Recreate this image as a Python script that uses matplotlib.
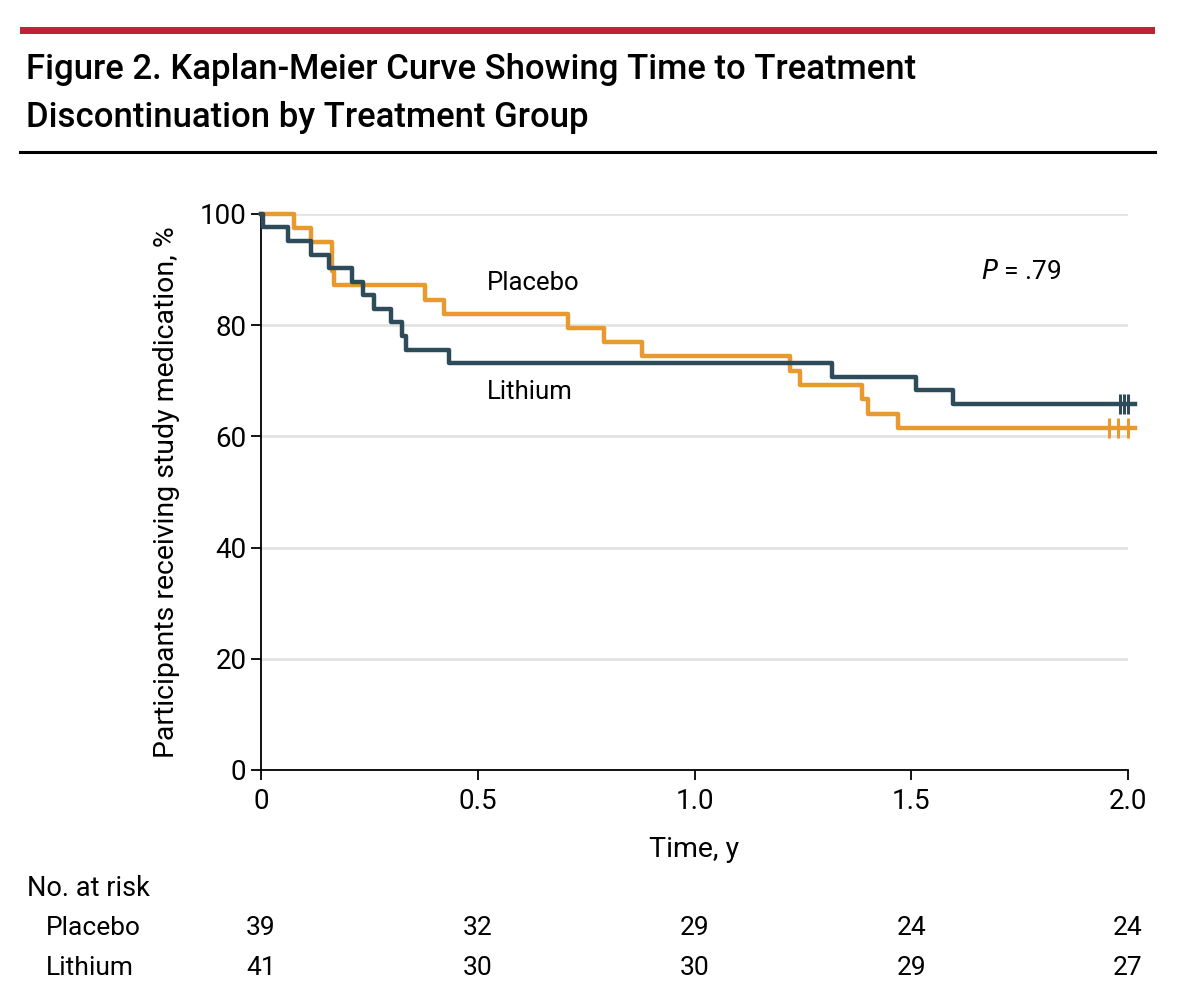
import matplotlib
matplotlib.use("Agg")
import matplotlib.pyplot as plt
from matplotlib import font_manager
from matplotlib.patches import Rectangle
from matplotlib.lines import Line2D

# Kaplan-Meier steps (time in years, % still on medication)
placebo_t = [0, 0.077, 0.115, 0.163, 0.168, 0.378, 0.423, 0.709, 0.792, 0.880,
             1.220, 1.243, 1.386, 1.401, 1.470, 2.017]
placebo_s = [100, 97.4, 94.9, 89.7, 87.2, 84.6, 82.1, 79.5, 76.9, 74.4,
             71.8, 69.2, 66.7, 64.1, 61.5, 61.5]
lithium_t = [0, 0.005, 0.063, 0.115, 0.157, 0.209, 0.236, 0.261, 0.301, 0.325,
             0.334, 0.434, 1.318, 1.512, 1.596, 2.017]
lithium_s = [100, 97.6, 95.1, 92.7, 90.2, 87.8, 85.4, 82.9, 80.5, 78.0,
             75.6, 73.2, 70.7, 68.3, 65.9, 65.9]
placebo_cens_t = [1.957, 1.978, 2.0]
lithium_cens_t = [1.981, 1.991, 2.0]

risk_times = [0, 0.5, 1.0, 1.5, 2.0]
risk_placebo = [39, 32, 29, 24, 24]
risk_lithium = [41, 30, 30, 29, 27]

x_ticks = [0, 0.5, 1.0, 1.5, 2.0]
x_ticklabels = ['0', '0.5', '1.0', '1.5', '2.0']
y_ticks = [0, 20, 40, 60, 80, 100]

orange = '#E8992F'
teal = '#2D4B58'

installed = {f.name for f in font_manager.fontManager.ttflist}
fam = [f for f in ['Liberation Sans Narrow', 'Roboto', 'DejaVu Sans'] if f in installed]
plt.rcParams['font.family'] = fam

fig = plt.figure(figsize=(12, 10.07), dpi=100)
W, H = 1200, 1007


def fx(px):
    return px / W


def fy(py):
    return 1 - py / H


# header decoration
fig.patches.append(Rectangle((fx(20), fy(34)), fx(1155) - fx(20), fy(27) - fy(34),
                             transform=fig.transFigure, color='#BE2436', lw=0))
fig.add_artist(Line2D([fx(20), fx(1155)], [fy(152), fy(152)], transform=fig.transFigure,
                      color='black', lw=2.2))
fig.text(fx(26), fy(79), 'Figure 2. Kaplan-Meier Curve Showing Time to Treatment',
         fontsize=25, fontweight='medium', va='baseline', ha='left')
fig.text(fx(26), fy(127), 'Discontinuation by Treatment Group',
         fontsize=25, fontweight='medium', va='baseline', ha='left')

ax = fig.add_axes([fx(261), fy(770), fx(1128) - fx(261), fy(214) - fy(770)])

for y in y_ticks[1:]:
    ax.axhline(y, color='#E3E3E3', lw=2, zorder=0)

ax.step(placebo_t, placebo_s, where='post', color=orange, lw=3.2, clip_on=False, zorder=3)
ax.step(lithium_t, lithium_s, where='post', color=teal, lw=3.2, clip_on=False, zorder=4)
ax.plot(placebo_cens_t, [placebo_s[-1]] * len(placebo_cens_t), ls='none', marker='|',
        ms=14, mew=2.2, color=orange, clip_on=False, zorder=3)
ax.plot(lithium_cens_t, [lithium_s[-1]] * len(lithium_cens_t), ls='none', marker='|',
        ms=14, mew=2.2, color=teal, clip_on=False, zorder=4)

ax.set_xlim(0, 2.0)
ax.set_ylim(0, 100)
ax.set_xticks(x_ticks)
ax.set_xticklabels(x_ticklabels)
ax.set_yticks(y_ticks)
for s in ['top', 'right']:
    ax.spines[s].set_visible(False)
for s in ['left', 'bottom']:
    ax.spines[s].set_linewidth(1.3)
ax.tick_params(axis='both', labelsize=20, length=7, width=1.3)
ax.tick_params(axis='x', pad=6)
ax.set_xlabel('Time, y', fontsize=20.5, labelpad=15)
ax.set_ylabel('Participants receiving study medication, %', fontsize=20.5, labelpad=14)

ax.text(0.52, 87.5, 'Placebo', fontsize=18.5, ha='left', va='center')
ax.text(0.52, 68.0, 'Lithium', fontsize=18.5, ha='left', va='center')
ax.text(1.66, 89.5, '$P$ = .79', fontsize=19, ha='left', va='center')

# number at risk table
fig.text(fx(27), fy(888), 'No. at risk', fontsize=19.5, ha='left', va='center')
fig.text(fx(46), fy(928), 'Placebo', fontsize=19, ha='left', va='center')
fig.text(fx(46), fy(968), 'Lithium', fontsize=19, ha='left', va='center')
for t, p, l in zip(risk_times, risk_placebo, risk_lithium):
    xp = fx(261 + t / 2.0 * (1128 - 261))
    fig.text(xp, fy(928), str(p), fontsize=19, ha='center', va='center')
    fig.text(xp, fy(968), str(l), fontsize=19, ha='center', va='center')

fig.savefig('out.png', dpi=100)
